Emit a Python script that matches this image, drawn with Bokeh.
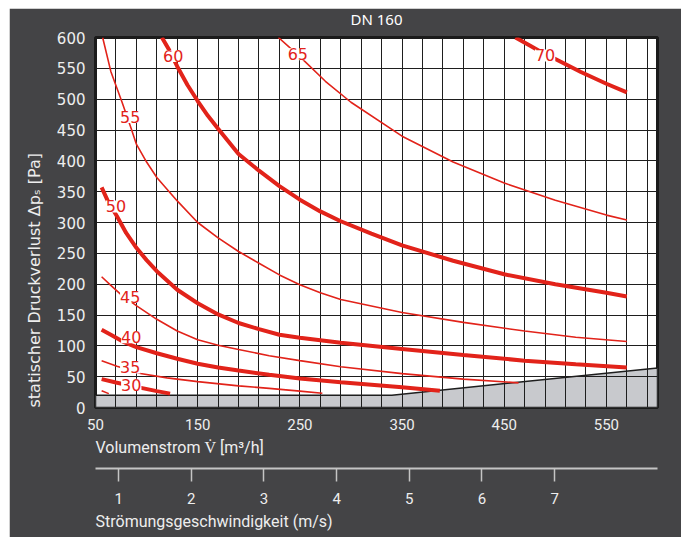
from bokeh.plotting import figure
from bokeh.models import Range1d, LinearAxis, FixedTicker, ColumnDataSource, LabelSet, Title
from bokeh.core.properties import value
from bokeh.embed import file_html
from bokeh.resources import INLINE

# ---------------- data ----------------
x_ticks = [50, 150, 250, 350, 450, 550]
x_grid = [50, 70, 90, 110, 130, 150, 170, 190, 210, 230, 250, 270, 290, 310, 330, 350,
          370, 390, 410, 430, 450, 470, 490, 510, 530, 550, 570, 590]
y_ticks = [0, 50, 100, 150, 200, 250, 300, 350, 400, 450, 500, 550, 600]
velocity_ticks = [1, 2, 3, 4, 5, 6, 7]

# limit region (grey)
limit_v = [50, 50, 340, 600, 600]
limit_p = [0, 20, 20, 64, 0]

v70 = [461, 475, 490, 500, 525, 550, 570]
p70 = [600, 587, 573, 565, 544, 525, 511]

v65 = [229, 250, 275, 300, 350, 400, 450, 500, 550, 570]
p65 = [600, 569, 529, 495, 440, 398, 364, 336, 312, 304]

v60 = [115, 122, 130, 140, 150, 160, 170, 190, 210, 230, 250, 270, 290, 320, 350, 400, 450, 500, 550, 570]
p60 = [600, 580, 553, 523, 497, 473, 452, 411, 384, 359, 337, 318, 302, 282, 263, 238, 216, 200, 186, 180]

v55 = [57, 65, 76, 85, 90, 100, 110, 130, 150, 170, 190, 210, 230, 250, 270, 290, 350, 410, 470, 520, 570]
p55 = [600, 545, 495, 452, 427, 398, 373, 335, 300, 275, 253, 234, 215, 199, 186, 175, 154, 138, 124, 114, 107]

v50 = [56, 62, 71, 80, 90, 100, 110, 130, 150, 170, 190, 210, 230, 250, 270, 290, 350, 410, 470, 520, 570]
p50 = [357, 335, 310, 283, 259, 239, 221, 191, 169, 151, 137, 127, 118, 113, 109, 105, 95, 85, 76, 70, 65]

v45 = [56, 65, 75, 91, 110, 130, 150, 170, 190, 220, 250, 290, 350, 410, 464]
p45 = [212, 198, 183, 164, 143, 124, 110, 101, 94, 84, 76, 66, 55, 46, 40]

v40 = [56, 65, 78, 90, 110, 130, 150, 170, 190, 220, 250, 290, 350, 387]
p40 = [126, 118, 106, 98, 88, 79, 71, 65, 60, 53, 47, 41, 33, 27]

v35 = [56, 71, 94, 120, 150, 190, 220, 250, 272]
p35 = [76, 67, 55, 48, 42, 35, 31, 26.5, 23]

v30 = [56, 70, 85, 97, 110, 123]
p30 = [46, 40.5, 35, 31, 26.5, 22.5]

v25 = [56, 63]
p25 = [27, 22.5]

label_text = ["70", "65", "60", "55", "50", "45", "40", "35", "30"]
label_v = [490, 248, 126, 84, 70, 84, 85, 84, 85]
label_p = [571, 573, 570, 471, 326, 179, 114, 65, 37]

TITLE = "DN 160"
X_LABEL = "Volumenstrom V\u0307 [m³/h]"
V_LABEL = "Strömungsgeschwindigkeit (m/s)"
Y_LABEL = "statischer Druckverlust \u0394p\u209b  [Pa]"

# ---------------- style ----------------
BG = "#444446"
RED = "#e2231a"
GRID = "#1e1e1e"
TXT = "#eeeeee"
LIGHT = "#c4c4c4"

p = figure(width=672, height=529, x_range=Range1d(50, 600), y_range=Range1d(0, 600),
           output_backend="svg", toolbar_location=None,
           background_fill_color="white", border_fill_color=BG,
           min_border_left=86, min_border_right=24, min_border_top=29, min_border_bottom=130)
p.margin = (8, 0, 0, 9)
p.outline_line_color = "#1b1b1b"
p.outline_line_width = 3

p.title.text = TITLE
p.title.align = "center"
p.title.vertical_align = "top"
p.title.text_color = "white"
p.title.text_font = "Noto Sans"
p.title.text_font_size = "15px"
p.title.text_font_style = "normal"
p.title.standoff = 0

p.xgrid.ticker = FixedTicker(ticks=x_grid)
p.ygrid.ticker = FixedTicker(ticks=y_ticks)
p.grid.grid_line_color = GRID
p.grid.grid_line_width = 1
p.grid.grid_line_alpha = 1

p.patch(limit_v, limit_p, fill_color="#c8c9cd", line_color=GRID, line_width=1.5, level="image")

thick = 4
thin = 1.6
for vv, pp, w in [(v70, p70, thick), (v65, p65, thin), (v60, p60, thick), (v55, p55, thin),
                  (v50, p50, thick), (v45, p45, thin), (v40, p40, thick), (v35, p35, thin),
                  (v30, p30, thick), (v25, p25, thin)]:
    p.line(vv, pp, line_color=RED, line_width=w)

src = ColumnDataSource(dict(x=label_v, y=label_p, t=label_text))
labels = LabelSet(x="x", y="y", text="t", source=src, text_align="center", text_baseline="middle",
                  text_color=RED, text_font_size="16px", text_font=value("DejaVu Sans"),
                  background_fill_color="white", background_fill_alpha=1.0)
p.add_layout(labels)

# main x axis (tick labels only) - the bottom axis
xa = p.below[0]
xa.ticker = FixedTicker(ticks=x_ticks)
xa.axis_line_color = None
xa.major_tick_line_color = None
xa.minor_tick_line_color = None
xa.major_tick_out = 0
xa.major_label_text_color = TXT
xa.major_label_text_font = "Roboto"
xa.major_label_text_font_size = "15px"
xa.major_label_standoff = 11

# y axis
ya = p.left[0]
ya.ticker = FixedTicker(ticks=y_ticks)
ya.axis_line_color = None
ya.major_tick_line_color = None
ya.minor_tick_line_color = None
ya.major_tick_out = 0
ya.major_label_text_color = TXT
ya.major_label_text_font = "DejaVu Sans"
ya.major_label_text_font_size = "15px"
ya.major_label_standoff = 10

def side_title(text, font, size, standoff):
    return Title(text=text, align="left", text_color=TXT, text_font=font,
                 text_font_size=size, text_font_style="normal", standoff=standoff)

# left-aligned axis titles placed as layout panels
p.add_layout(side_title(Y_LABEL, "DejaVu Sans", "16px", 20), "left")
p.add_layout(side_title(X_LABEL, "Roboto", "16px", 7), "below")

# spacer between the two horizontal scales
spacer = LinearAxis(ticker=FixedTicker(ticks=[325]), axis_line_color=None,
                    major_tick_line_color=None, minor_tick_line_color=None,
                    major_tick_in=0, major_tick_out=8, major_label_standoff=0,
                    major_label_text_font_size="0px", major_label_overrides={325: ""})
p.add_layout(spacer, "below")

# velocity axis
p.extra_x_ranges = {"v": Range1d(0.681, 8.416)}
va = LinearAxis(x_range_name="v", ticker=FixedTicker(ticks=velocity_ticks))
va.axis_line_color = LIGHT
va.axis_line_width = 2
va.major_tick_line_color = LIGHT
va.major_tick_line_width = 1.5
va.major_tick_in = 0
va.major_tick_out = 13
va.minor_tick_line_color = None
va.major_label_text_color = TXT
va.major_label_text_font = "Roboto"
va.major_label_text_font_size = "15px"
va.major_label_standoff = 11
p.add_layout(va, "below")

p.add_layout(side_title(V_LABEL, "Roboto", "16px", 6), "below")

# small gap between plot frame and title (added last, closest to the frame)
top_gap = LinearAxis(ticker=FixedTicker(ticks=[325]), axis_line_color=None,
                     major_tick_line_color=None, minor_tick_line_color=None,
                     major_tick_in=0, major_tick_out=7, major_label_standoff=0,
                     major_label_text_font_size="0px", major_label_overrides={325: ""})
p.above = [top_gap] + list(p.above)

open("out.html", "w").write(file_html(p, INLINE))
